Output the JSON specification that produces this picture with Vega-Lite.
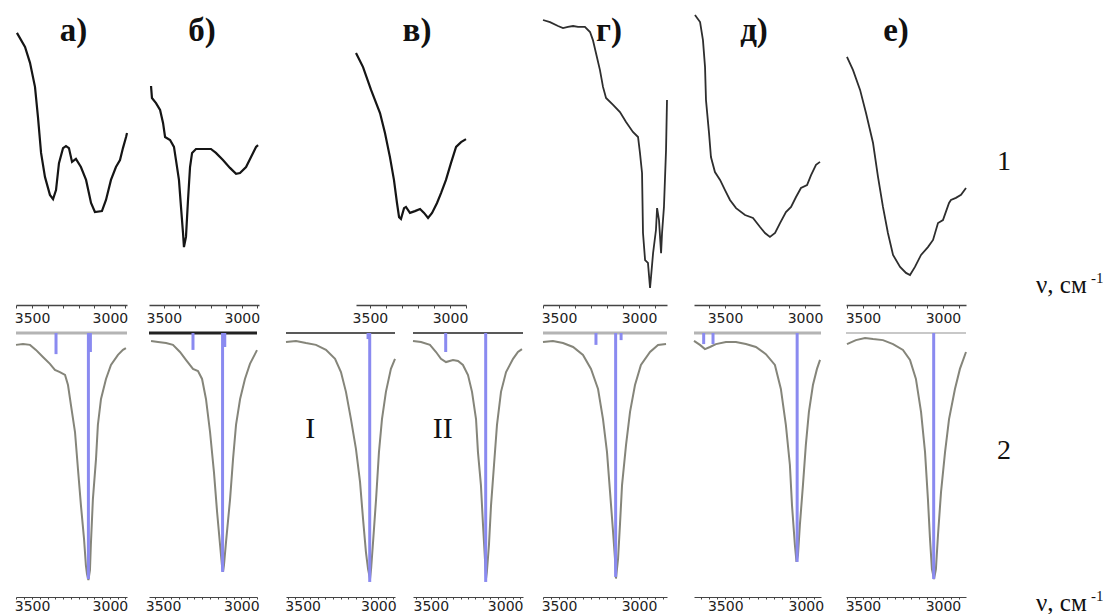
{
"$schema": "https://vega.github.io/schema/vega-lite/v6.json",
"background": "white",
"padding": {"left": 12, "top": 5, "right": 0, "bottom": 0},
"spacing": 6,
"datasets": {
"exp": [
{"p":"a","wn":3597,"t":90.7},{"p":"a","wn":3545,"t":86.0},{"p":"a","wn":3513,"t":80.7},{"p":"a","wn":3481,"t":72.7},{"p":"a","wn":3462,"t":62.7},{"p":"a","wn":3442,"t":50.7},{"p":"a","wn":3417,"t":42.7},{"p":"a","wn":3385,"t":36.7},{"p":"a","wn":3365,"t":35.3},{"p":"a","wn":3346,"t":38.3},{"p":"a","wn":3327,"t":47.3},{"p":"a","wn":3301,"t":52.3},{"p":"a","wn":3282,"t":53.0},{"p":"a","wn":3263,"t":52.3},{"p":"a","wn":3243,"t":47.7},{"p":"a","wn":3218,"t":48.7},{"p":"a","wn":3186,"t":46.0},{"p":"a","wn":3153,"t":41.7},{"p":"a","wn":3121,"t":34.0},{"p":"a","wn":3096,"t":31.0},{"p":"a","wn":3051,"t":31.3},{"p":"a","wn":3025,"t":35.0},{"p":"a","wn":2993,"t":41.7},{"p":"a","wn":2961,"t":46.0},{"p":"a","wn":2935,"t":48.3},{"p":"a","wn":2916,"t":52.3},{"p":"a","wn":2896,"t":56.0},{"p":"a","wn":2890,"t":57.3},
{"p":"b","wn":3582,"t":73.0},{"p":"b","wn":3576,"t":69.0},{"p":"b","wn":3550,"t":67.3},{"p":"b","wn":3524,"t":65.0},{"p":"b","wn":3505,"t":60.7},{"p":"b","wn":3492,"t":56.0},{"p":"b","wn":3460,"t":55.0},{"p":"b","wn":3435,"t":52.7},{"p":"b","wn":3422,"t":48.3},{"p":"b","wn":3403,"t":41.7},{"p":"b","wn":3390,"t":32.7},{"p":"b","wn":3377,"t":24.0},{"p":"b","wn":3371,"t":19.3},{"p":"b","wn":3358,"t":22.7},{"p":"b","wn":3345,"t":35.0},{"p":"b","wn":3332,"t":46.0},{"p":"b","wn":3319,"t":50.7},{"p":"b","wn":3294,"t":52.0},{"p":"b","wn":3249,"t":52.0},{"p":"b","wn":3198,"t":52.0},{"p":"b","wn":3166,"t":50.7},{"p":"b","wn":3121,"t":48.3},{"p":"b","wn":3076,"t":45.7},{"p":"b","wn":3037,"t":43.7},{"p":"b","wn":3012,"t":44.0},{"p":"b","wn":2973,"t":46.0},{"p":"b","wn":2941,"t":49.3},{"p":"b","wn":2909,"t":52.7},{"p":"b","wn":2896,"t":53.3},
{"p":"v","wn":3587,"t":84.0},{"p":"v","wn":3543,"t":79.3},{"p":"v","wn":3493,"t":71.7},{"p":"v","wn":3437,"t":64.0},{"p":"v","wn":3406,"t":57.3},{"p":"v","wn":3375,"t":49.3},{"p":"v","wn":3350,"t":41.7},{"p":"v","wn":3331,"t":34.0},{"p":"v","wn":3318,"t":29.3},{"p":"v","wn":3306,"t":28.7},{"p":"v","wn":3287,"t":32.3},{"p":"v","wn":3275,"t":32.7},{"p":"v","wn":3250,"t":30.7},{"p":"v","wn":3219,"t":31.3},{"p":"v","wn":3187,"t":32.0},{"p":"v","wn":3162,"t":30.7},{"p":"v","wn":3137,"t":29.0},{"p":"v","wn":3112,"t":30.7},{"p":"v","wn":3081,"t":34.0},{"p":"v","wn":3056,"t":37.3},{"p":"v","wn":3025,"t":41.7},{"p":"v","wn":2994,"t":47.3},{"p":"v","wn":2962,"t":52.7},{"p":"v","wn":2931,"t":54.3},{"p":"v","wn":2900,"t":55.3},
{"p":"g","wn":3600,"t":95.0},{"p":"g","wn":3556,"t":94.3},{"p":"g","wn":3506,"t":93.0},{"p":"g","wn":3475,"t":92.3},{"p":"g","wn":3444,"t":92.7},{"p":"g","wn":3412,"t":93.0},{"p":"g","wn":3381,"t":92.7},{"p":"g","wn":3338,"t":92.7},{"p":"g","wn":3306,"t":91.0},{"p":"g","wn":3288,"t":88.3},{"p":"g","wn":3269,"t":84.0},{"p":"g","wn":3244,"t":78.3},{"p":"g","wn":3225,"t":72.7},{"p":"g","wn":3206,"t":69.0},{"p":"g","wn":3162,"t":66.7},{"p":"g","wn":3119,"t":64.3},{"p":"g","wn":3081,"t":61.0},{"p":"g","wn":3038,"t":57.7},{"p":"g","wn":3006,"t":56.0},{"p":"g","wn":2994,"t":50.7},{"p":"g","wn":2981,"t":44.0},{"p":"g","wn":2975,"t":24.0},{"p":"g","wn":2962,"t":15.0},{"p":"g","wn":2944,"t":14.0},{"p":"g","wn":2931,"t":5.7},{"p":"g","wn":2925,"t":9.3},{"p":"g","wn":2912,"t":17.3},{"p":"g","wn":2894,"t":25.0},{"p":"g","wn":2887,"t":32.3},{"p":"g","wn":2875,"t":28.3},{"p":"g","wn":2862,"t":17.3},{"p":"g","wn":2856,"t":24.0},{"p":"g","wn":2844,"t":32.7},{"p":"g","wn":2831,"t":51.7},{"p":"g","wn":2825,"t":68.3},
{"p":"d","wn":3688,"t":96.7},{"p":"d","wn":3656,"t":94.3},{"p":"d","wn":3638,"t":88.3},{"p":"d","wn":3625,"t":79.3},{"p":"d","wn":3619,"t":68.3},{"p":"d","wn":3600,"t":57.3},{"p":"d","wn":3588,"t":49.3},{"p":"d","wn":3563,"t":44.3},{"p":"d","wn":3531,"t":41.7},{"p":"d","wn":3500,"t":38.3},{"p":"d","wn":3469,"t":35.0},{"p":"d","wn":3431,"t":32.3},{"p":"d","wn":3375,"t":30.0},{"p":"d","wn":3325,"t":29.0},{"p":"d","wn":3281,"t":26.0},{"p":"d","wn":3250,"t":24.0},{"p":"d","wn":3219,"t":22.7},{"p":"d","wn":3187,"t":24.0},{"p":"d","wn":3156,"t":27.3},{"p":"d","wn":3119,"t":31.0},{"p":"d","wn":3087,"t":32.7},{"p":"d","wn":3056,"t":36.0},{"p":"d","wn":3025,"t":39.0},{"p":"d","wn":2987,"t":40.0},{"p":"d","wn":2962,"t":43.3},{"p":"d","wn":2931,"t":46.7},{"p":"d","wn":2906,"t":47.7},
{"p":"e","wn":3600,"t":82.7},{"p":"e","wn":3562,"t":78.3},{"p":"e","wn":3518,"t":71.7},{"p":"e","wn":3481,"t":64.0},{"p":"e","wn":3437,"t":54.0},{"p":"e","wn":3406,"t":42.7},{"p":"e","wn":3375,"t":32.7},{"p":"e","wn":3344,"t":24.0},{"p":"e","wn":3312,"t":16.7},{"p":"e","wn":3268,"t":12.7},{"p":"e","wn":3231,"t":10.7},{"p":"e","wn":3206,"t":10.0},{"p":"e","wn":3175,"t":12.7},{"p":"e","wn":3137,"t":16.7},{"p":"e","wn":3094,"t":19.3},{"p":"e","wn":3062,"t":21.7},{"p":"e","wn":3031,"t":27.3},{"p":"e","wn":3000,"t":28.3},{"p":"e","wn":2962,"t":34.0},{"p":"e","wn":2950,"t":35.0},{"p":"e","wn":2919,"t":35.7},{"p":"e","wn":2887,"t":36.7},{"p":"e","wn":2856,"t":39.0}
],
"calc": [
{"p":"a","wn":3603,"t":95.5},{"p":"a","wn":3558,"t":95.8},{"p":"a","wn":3513,"t":95.5},{"p":"a","wn":3475,"t":93.6},{"p":"a","wn":3430,"t":90.9},{"p":"a","wn":3385,"t":88.3},{"p":"a","wn":3353,"t":86.0},{"p":"a","wn":3321,"t":85.2},{"p":"a","wn":3288,"t":84.1},{"p":"a","wn":3269,"t":80.3},{"p":"a","wn":3250,"t":72.7},{"p":"a","wn":3224,"t":62.5},{"p":"a","wn":3205,"t":48.5},{"p":"a","wn":3186,"t":34.8},{"p":"a","wn":3166,"t":22.0},{"p":"a","wn":3154,"t":12.0},{"p":"a","wn":3147,"t":8.7},{"p":"a","wn":3138,"t":6.4},{"p":"a","wn":3128,"t":10.2},{"p":"a","wn":3122,"t":20.0},{"p":"a","wn":3109,"t":37.1},{"p":"a","wn":3089,"t":52.3},{"p":"a","wn":3077,"t":65.2},{"p":"a","wn":3057,"t":75.0},{"p":"a","wn":3025,"t":82.6},{"p":"a","wn":2993,"t":87.9},{"p":"a","wn":2948,"t":91.7},{"p":"a","wn":2916,"t":93.6},{"p":"a","wn":2897,"t":94.3},
{"p":"b","wn":3577,"t":97.0},{"p":"b","wn":3532,"t":96.6},{"p":"b","wn":3481,"t":96.2},{"p":"b","wn":3437,"t":95.5},{"p":"b","wn":3392,"t":92.8},{"p":"b","wn":3354,"t":89.8},{"p":"b","wn":3309,"t":86.4},{"p":"b","wn":3277,"t":85.6},{"p":"b","wn":3251,"t":82.6},{"p":"b","wn":3226,"t":75.0},{"p":"b","wn":3200,"t":62.5},{"p":"b","wn":3175,"t":47.3},{"p":"b","wn":3155,"t":32.2},{"p":"b","wn":3136,"t":19.7},{"p":"b","wn":3124,"t":12.1},{"p":"b","wn":3117,"t":9.5},{"p":"b","wn":3111,"t":12.1},{"p":"b","wn":3098,"t":20.8},{"p":"b","wn":3072,"t":37.1},{"p":"b","wn":3053,"t":52.3},{"p":"b","wn":3034,"t":65.2},{"p":"b","wn":3008,"t":75.0},{"p":"b","wn":2977,"t":82.6},{"p":"b","wn":2945,"t":88.3},{"p":"b","wn":2913,"t":92.0},{"p":"b","wn":2900,"t":93.5},
{"p":"I","wn":3610,"t":96.6},{"p":"I","wn":3544,"t":97.0},{"p":"I","wn":3478,"t":96.2},{"p":"I","wn":3412,"t":95.5},{"p":"I","wn":3346,"t":93.6},{"p":"I","wn":3286,"t":90.2},{"p":"I","wn":3247,"t":85.2},{"p":"I","wn":3214,"t":77.7},{"p":"I","wn":3181,"t":67.4},{"p":"I","wn":3148,"t":56.1},{"p":"I","wn":3121,"t":43.6},{"p":"I","wn":3101,"t":29.5},{"p":"I","wn":3082,"t":17.0},{"p":"I","wn":3068,"t":10.6},{"p":"I","wn":3055,"t":6.8},{"p":"I","wn":3048,"t":10.6},{"p":"I","wn":3035,"t":20.8},{"p":"I","wn":3015,"t":37.1},{"p":"I","wn":2996,"t":54.9},{"p":"I","wn":2976,"t":67.4},{"p":"I","wn":2950,"t":77.7},{"p":"I","wn":2917,"t":86.4},{"p":"I","wn":2890,"t":90.2},
{"p":"II","wn":3620,"t":97.0},{"p":"II","wn":3566,"t":96.6},{"p":"II","wn":3506,"t":95.5},{"p":"II","wn":3465,"t":92.8},{"p":"II","wn":3432,"t":90.2},{"p":"II","wn":3398,"t":89.0},{"p":"II","wn":3351,"t":89.8},{"p":"II","wn":3317,"t":89.4},{"p":"II","wn":3284,"t":87.9},{"p":"II","wn":3250,"t":84.1},{"p":"II","wn":3223,"t":77.7},{"p":"II","wn":3196,"t":67.4},{"p":"II","wn":3183,"t":54.9},{"p":"II","wn":3163,"t":42.4},{"p":"II","wn":3149,"t":27.3},{"p":"II","wn":3136,"t":14.4},{"p":"II","wn":3129,"t":6.8},{"p":"II","wn":3123,"t":9.5},{"p":"II","wn":3109,"t":19.7},{"p":"II","wn":3095,"t":34.8},{"p":"II","wn":3075,"t":50.0},{"p":"II","wn":3055,"t":65.2},{"p":"II","wn":3028,"t":77.7},{"p":"II","wn":2994,"t":85.2},{"p":"II","wn":2947,"t":90.2},{"p":"II","wn":2914,"t":92.8},{"p":"II","wn":2887,"t":93.9},
{"p":"g","wn":3600,"t":96.6},{"p":"g","wn":3538,"t":97.0},{"p":"g","wn":3475,"t":96.2},{"p":"g","wn":3412,"t":94.7},{"p":"g","wn":3350,"t":91.7},{"p":"g","wn":3300,"t":86.4},{"p":"g","wn":3256,"t":78.8},{"p":"g","wn":3225,"t":67.4},{"p":"g","wn":3200,"t":54.9},{"p":"g","wn":3181,"t":39.8},{"p":"g","wn":3162,"t":24.6},{"p":"g","wn":3150,"t":14.4},{"p":"g","wn":3144,"t":7.0},{"p":"g","wn":3131,"t":14.4},{"p":"g","wn":3119,"t":27.3},{"p":"g","wn":3106,"t":42.4},{"p":"g","wn":3081,"t":57.6},{"p":"g","wn":3056,"t":70.1},{"p":"g","wn":3025,"t":80.3},{"p":"g","wn":2988,"t":87.9},{"p":"g","wn":2931,"t":92.8},{"p":"g","wn":2881,"t":95.5},{"p":"g","wn":2831,"t":95.8},
{"p":"d","wn":3694,"t":97.0},{"p":"d","wn":3657,"t":95.5},{"p":"d","wn":3626,"t":93.9},{"p":"d","wn":3595,"t":94.7},{"p":"d","wn":3558,"t":95.8},{"p":"d","wn":3496,"t":96.6},{"p":"d","wn":3434,"t":96.6},{"p":"d","wn":3372,"t":95.8},{"p":"d","wn":3310,"t":94.7},{"p":"d","wn":3248,"t":92.0},{"p":"d","wn":3192,"t":87.9},{"p":"d","wn":3155,"t":78.8},{"p":"d","wn":3124,"t":65.2},{"p":"d","wn":3099,"t":50.0},{"p":"d","wn":3086,"t":34.8},{"p":"d","wn":3068,"t":19.7},{"p":"d","wn":3058,"t":13.3},{"p":"d","wn":3049,"t":15.9},{"p":"d","wn":3037,"t":27.3},{"p":"d","wn":3018,"t":42.4},{"p":"d","wn":3000,"t":57.6},{"p":"d","wn":2981,"t":70.1},{"p":"d","wn":2956,"t":80.3},{"p":"d","wn":2931,"t":86.4},{"p":"d","wn":2912,"t":89.8},
{"p":"e","wn":3600,"t":95.8},{"p":"e","wn":3544,"t":97.3},{"p":"e","wn":3487,"t":98.1},{"p":"e","wn":3437,"t":97.7},{"p":"e","wn":3375,"t":97.3},{"p":"e","wn":3312,"t":95.8},{"p":"e","wn":3250,"t":93.6},{"p":"e","wn":3206,"t":89.8},{"p":"e","wn":3169,"t":82.6},{"p":"e","wn":3137,"t":70.1},{"p":"e","wn":3112,"t":54.9},{"p":"e","wn":3094,"t":37.1},{"p":"e","wn":3081,"t":22.0},{"p":"e","wn":3069,"t":10.6},{"p":"e","wn":3056,"t":6.8},{"p":"e","wn":3044,"t":10.6},{"p":"e","wn":3031,"t":23.5},{"p":"e","wn":3012,"t":39.8},{"p":"e","wn":2987,"t":54.9},{"p":"e","wn":2962,"t":67.4},{"p":"e","wn":2925,"t":78.8},{"p":"e","wn":2894,"t":86.4},{"p":"e","wn":2856,"t":92.8}
],
"sticks": [
{"p":"a","wn":3346,"t":92.0},{"p":"a","wn":3138,"t":6.8},{"p":"a","wn":3125,"t":92.8},
{"p":"b","wn":3309,"t":93.6},{"p":"b","wn":3120,"t":9.5},{"p":"b","wn":3106,"t":94.7},
{"p":"I","wn":3057,"t":5.7},{"p":"I","wn":3068,"t":97.7},
{"p":"II","wn":3400,"t":92.8},{"p":"II","wn":3131,"t":5.7},
{"p":"g","wn":3269,"t":95.5},{"p":"g","wn":3146,"t":7.6},{"p":"g","wn":3112,"t":97.3},
{"p":"d","wn":3634,"t":95.8},{"p":"d","wn":3576,"t":95.8},{"p":"d","wn":3054,"t":13.3},
{"p":"e","wn":3058,"t":6.8}
]
},
"vconcat": [
{
"bounds": "flush",
"spacing": 0,
"hconcat": [
{"width": 111, "height": 300, "title": {"text": "а)", "dx": 2}, "data": {"name": "exp"}, "transform": [{"filter": "datum.p == 'a'"}], "mark": {"type": "line", "color": "#151515", "strokeWidth": 2.2},
 "encoding": {"x": {"field": "wn", "type": "quantitative", "scale": {"domain": [2890, 3603], "reverse": true, "nice": false, "zero": false}, "axis": {"values": [2900,3000,3100,3200,3300,3400,3500,3600], "format": "d", "labelExpr": "datum.value == 3500 || datum.value == 3000 ? datum.label : ''", "tickSize": 3, "domainWidth": 1.5, "title": null}},
  "y": {"field": "t", "type": "quantitative", "scale": {"domain": [0, 100]}, "axis": null}}},
{"width": 22, "height": 10, "data": {"values": []}, "mark": "point"},
{"width": 110, "height": 300, "title": {"text": "б)", "dx": -2}, "data": {"name": "exp"}, "transform": [{"filter": "datum.p == 'b'"}], "mark": {"type": "line", "color": "#151515", "strokeWidth": 2.2},
 "encoding": {"x": {"field": "wn", "type": "quantitative", "scale": {"domain": [2890, 3595], "reverse": true, "nice": false, "zero": false}, "axis": {"values": [2900,3000,3100,3200,3300,3400,3500], "format": "d", "labelExpr": "datum.value == 3500 || datum.value == 3000 ? datum.label : ''", "tickSize": 3, "domainWidth": 1.5, "title": null}},
  "y": {"field": "t", "type": "quantitative", "scale": {"domain": [0, 100]}, "axis": null}}},
{"width": 97, "height": 10, "data": {"values": []}, "mark": "point"},
{"width": 110, "height": 300, "title": {"text": "в)", "dx": 6}, "data": {"name": "exp"}, "transform": [{"filter": "datum.p == 'v'"}], "mark": {"type": "line", "color": "#151515", "strokeWidth": 2.2},
 "encoding": {"x": {"field": "wn", "type": "quantitative", "scale": {"domain": [2900, 3587], "reverse": true, "nice": false, "zero": false}, "axis": {"values": [2900,3000,3100,3200,3300,3400,3500], "format": "d", "labelExpr": "datum.value == 3500 || datum.value == 3000 ? datum.label : ''", "tickSize": 3, "domainWidth": 1.5, "title": null}},
  "y": {"field": "t", "type": "quantitative", "scale": {"domain": [0, 100]}, "axis": null}}},
{"width": 77, "height": 10, "data": {"values": []}, "mark": "point"},
{"width": 124, "height": 300, "title": {"text": "г)", "dx": 4}, "data": {"name": "exp"}, "transform": [{"filter": "datum.p == 'g'"}], "mark": {"type": "line", "color": "#2e2e2e", "strokeWidth": 1.8},
 "encoding": {"x": {"field": "wn", "type": "quantitative", "scale": {"domain": [2825, 3600], "reverse": true, "nice": false, "zero": false}, "axis": {"values": [2900,3000,3100,3200,3300,3400,3500,3600], "format": "d", "labelExpr": "datum.value == 3500 || datum.value == 3000 ? datum.label : ''", "tickSize": 3, "domainWidth": 1.5, "title": null}},
  "y": {"field": "t", "type": "quantitative", "scale": {"domain": [0, 100]}, "axis": null}}},
{"width": 27, "height": 10, "data": {"values": []}, "mark": "point"},
{"width": 126, "height": 300, "title": {"text": "д)", "dx": -3}, "data": {"name": "exp"}, "transform": [{"filter": "datum.p == 'd'"}], "mark": {"type": "line", "color": "#2e2e2e", "strokeWidth": 1.8},
 "encoding": {"x": {"field": "wn", "type": "quantitative", "scale": {"domain": [2906, 3694], "reverse": true, "nice": false, "zero": false}, "axis": {"values": [3000,3100,3200,3300,3400,3500,3600], "format": "d", "labelExpr": "datum.value == 3500 || datum.value == 3000 ? datum.label : ''", "tickSize": 3, "domainWidth": 1.5, "title": null}},
  "y": {"field": "t", "type": "quantitative", "scale": {"domain": [0, 100]}, "axis": null}}},
{"width": 26, "height": 10, "data": {"values": []}, "mark": "point"},
{"width": 120, "height": 300, "title": {"text": "е)", "dx": -10}, "data": {"name": "exp"}, "transform": [{"filter": "datum.p == 'e'"}], "mark": {"type": "line", "color": "#2e2e2e", "strokeWidth": 1.8},
 "encoding": {"x": {"field": "wn", "type": "quantitative", "scale": {"domain": [2856, 3606], "reverse": true, "nice": false, "zero": false}, "axis": {"values": [2900,3000,3100,3200,3300,3400,3500,3600], "format": "d", "labelExpr": "datum.value == 3500 || datum.value == 3000 ? datum.label : ''", "tickSize": 3, "domainWidth": 1.5, "title": null}},
  "y": {"field": "t", "type": "quantitative", "scale": {"domain": [0, 100]}, "axis": null}}},
{"width": 140, "height": 300, "data": {"values": [{}]},
 "layer": [
  {"mark": {"type": "text", "text": "1", "font": "Liberation Serif", "fontSize": 28, "align": "center", "baseline": "middle", "color": "#111"},
   "encoding": {"x": {"datum": 0.271, "type": "quantitative", "scale": {"domain": [0, 1]}, "axis": null}, "y": {"datum": 0.477, "type": "quantitative", "scale": {"domain": [0, 1]}, "axis": null}}},
  {"mark": {"type": "text", "text": "ν, см", "font": "Liberation Serif", "fontSize": 25, "align": "left", "baseline": "alphabetic", "color": "#111"},
   "encoding": {"x": {"datum": 0.5, "type": "quantitative"}, "y": {"datum": 0.04, "type": "quantitative"}}},
  {"mark": {"type": "text", "text": "-1", "font": "Liberation Serif", "fontSize": 15, "align": "left", "baseline": "alphabetic", "color": "#111"},
   "encoding": {"x": {"datum": 0.893, "type": "quantitative"}, "y": {"datum": 0.075, "type": "quantitative"}}}
 ]}
]
},
{
"bounds": "flush",
"spacing": 0,
"hconcat": [
{"width": 111, "height": 264, "layer": [
 {"data": {"values": [{}]}, "mark": {"type": "rule", "color": "#b4b4b4", "strokeWidth": 3}, "encoding": {"y": {"datum": 100, "type": "quantitative", "scale": {"domain": [0, 100]}, "axis": null}}},
 {"data": {"name": "calc"}, "transform": [{"filter": "datum.p == 'a'"}], "mark": {"type": "line", "color": "#85857a", "strokeWidth": 2},
  "encoding": {"x": {"field": "wn", "type": "quantitative", "scale": {"domain": [2890, 3603], "reverse": true, "nice": false, "zero": false}, "axis": {"values": [2900,2950,3000,3050,3100,3150,3200,3250,3300,3350,3400,3450,3500,3550,3600], "format": "d", "labelExpr": "datum.value == 3500 || datum.value == 3000 ? datum.label : ''", "tickSize": 2, "labelPadding": 0, "labelBaseline": "top", "title": null}}, "y": {"field": "t", "type": "quantitative"}}},
 {"data": {"name": "sticks"}, "transform": [{"filter": "datum.p == 'a'"}], "mark": {"type": "rule", "color": "#8a8af0", "strokeWidth": 3}, "encoding": {"x": {"field": "wn", "type": "quantitative", "axis": {"values": [2900,2950,3000,3050,3100,3150,3200,3250,3300,3350,3400,3450,3500,3550,3600], "format": "d", "labelExpr": "datum.value == 3500 || datum.value == 3000 ? datum.label : ''", "tickSize": 2, "labelPadding": 0, "labelBaseline": "top", "title": null}}, "y": {"field": "t", "type": "quantitative"}, "y2": {"datum": 100}}}
]},
{"width": 22, "height": 10, "data": {"values": []}, "mark": "point"},
{"width": 108, "height": 264, "layer": [
 {"data": {"values": [{}]}, "mark": {"type": "rule", "color": "#222222", "strokeWidth": 3}, "encoding": {"y": {"datum": 100, "type": "quantitative", "scale": {"domain": [0, 100]}, "axis": null}}},
 {"data": {"name": "calc"}, "transform": [{"filter": "datum.p == 'b'"}], "mark": {"type": "line", "color": "#85857a", "strokeWidth": 2},
  "encoding": {"x": {"field": "wn", "type": "quantitative", "scale": {"domain": [2900, 3590], "reverse": true, "nice": false, "zero": false}, "axis": {"values": [2900,2950,3000,3050,3100,3150,3200,3250,3300,3350,3400,3450,3500,3550], "format": "d", "labelExpr": "datum.value == 3500 || datum.value == 3000 ? datum.label : ''", "tickSize": 2, "labelPadding": 0, "labelBaseline": "top", "title": null}}, "y": {"field": "t", "type": "quantitative"}}},
 {"data": {"name": "sticks"}, "transform": [{"filter": "datum.p == 'b'"}], "mark": {"type": "rule", "color": "#8a8af0", "strokeWidth": 3}, "encoding": {"x": {"field": "wn", "type": "quantitative", "axis": {"values": [2900,2950,3000,3050,3100,3150,3200,3250,3300,3350,3400,3450,3500,3550], "format": "d", "labelExpr": "datum.value == 3500 || datum.value == 3000 ? datum.label : ''", "tickSize": 2, "labelPadding": 0, "labelBaseline": "top", "title": null}}, "y": {"field": "t", "type": "quantitative"}, "y2": {"datum": 100}}}
]},
{"width": 29, "height": 10, "data": {"values": []}, "mark": "point"},
{"width": 109, "height": 264, "layer": [
 {"data": {"values": [{}]}, "mark": {"type": "rule", "color": "#222222", "strokeWidth": 1.3}, "encoding": {"y": {"datum": 100, "type": "quantitative", "scale": {"domain": [0, 100]}, "axis": null}}},
 {"data": {"name": "calc"}, "transform": [{"filter": "datum.p == 'I'"}], "mark": {"type": "line", "color": "#85857a", "strokeWidth": 2},
  "encoding": {"x": {"field": "wn", "type": "quantitative", "scale": {"domain": [2890, 3610], "reverse": true, "nice": false, "zero": false}, "axis": {"values": [2900,2950,3000,3050,3100,3150,3200,3250,3300,3350,3400,3450,3500,3550,3600], "format": "d", "labelExpr": "datum.value == 3500 || datum.value == 3000 ? datum.label : ''", "tickSize": 2, "labelPadding": 0, "labelBaseline": "top", "title": null}}, "y": {"field": "t", "type": "quantitative"}}},
 {"data": {"name": "sticks"}, "transform": [{"filter": "datum.p == 'I'"}], "mark": {"type": "rule", "color": "#8a8af0", "strokeWidth": 3}, "encoding": {"x": {"field": "wn", "type": "quantitative", "axis": {"values": [2900,2950,3000,3050,3100,3150,3200,3250,3300,3350,3400,3450,3500,3550,3600], "format": "d", "labelExpr": "datum.value == 3500 || datum.value == 3000 ? datum.label : ''", "tickSize": 2, "labelPadding": 0, "labelBaseline": "top", "title": null}}, "y": {"field": "t", "type": "quantitative"}, "y2": {"datum": 100}}},
 {"data": {"values": [{}]}, "mark": {"type": "text", "text": "I", "font": "Liberation Serif", "fontSize": 30, "align": "center", "baseline": "middle", "color": "#111"}, "encoding": {"x": {"datum": 3450, "type": "quantitative", "axis": {"values": [2900,2950,3000,3050,3100,3150,3200,3250,3300,3350,3400,3450,3500,3550,3600], "format": "d", "labelExpr": "datum.value == 3500 || datum.value == 3000 ? datum.label : ''", "tickSize": 2, "labelPadding": 0, "labelBaseline": "top", "title": null}}, "y": {"datum": 63.6, "type": "quantitative"}}}
]},
{"width": 18, "height": 10, "data": {"values": []}, "mark": "point"},
{"width": 110, "height": 264, "layer": [
 {"data": {"values": [{}]}, "mark": {"type": "rule", "color": "#222222", "strokeWidth": 1.3}, "encoding": {"y": {"datum": 100, "type": "quantitative", "scale": {"domain": [0, 100]}, "axis": null}}},
 {"data": {"name": "calc"}, "transform": [{"filter": "datum.p == 'II'"}], "mark": {"type": "line", "color": "#85857a", "strokeWidth": 2},
  "encoding": {"x": {"field": "wn", "type": "quantitative", "scale": {"domain": [2880, 3620], "reverse": true, "nice": false, "zero": false}, "axis": {"values": [2900,2950,3000,3050,3100,3150,3200,3250,3300,3350,3400,3450,3500,3550,3600], "format": "d", "labelExpr": "datum.value == 3500 || datum.value == 3000 ? datum.label : ''", "tickSize": 2, "labelPadding": 0, "labelBaseline": "top", "title": null}}, "y": {"field": "t", "type": "quantitative"}}},
 {"data": {"name": "sticks"}, "transform": [{"filter": "datum.p == 'II'"}], "mark": {"type": "rule", "color": "#8a8af0", "strokeWidth": 3}, "encoding": {"x": {"field": "wn", "type": "quantitative", "axis": {"values": [2900,2950,3000,3050,3100,3150,3200,3250,3300,3350,3400,3450,3500,3550,3600], "format": "d", "labelExpr": "datum.value == 3500 || datum.value == 3000 ? datum.label : ''", "tickSize": 2, "labelPadding": 0, "labelBaseline": "top", "title": null}}, "y": {"field": "t", "type": "quantitative"}, "y2": {"datum": 100}}},
 {"data": {"values": [{}]}, "mark": {"type": "text", "text": "II", "font": "Liberation Serif", "fontSize": 30, "align": "center", "baseline": "middle", "color": "#111"}, "encoding": {"x": {"datum": 3420, "type": "quantitative", "axis": {"values": [2900,2950,3000,3050,3100,3150,3200,3250,3300,3350,3400,3450,3500,3550,3600], "format": "d", "labelExpr": "datum.value == 3500 || datum.value == 3000 ? datum.label : ''", "tickSize": 2, "labelPadding": 0, "labelBaseline": "top", "title": null}}, "y": {"datum": 63.6, "type": "quantitative"}}}
]},
{"width": 20, "height": 10, "data": {"values": []}, "mark": "point"},
{"width": 124, "height": 264, "layer": [
 {"data": {"values": [{}]}, "mark": {"type": "rule", "color": "#b4b4b4", "strokeWidth": 3}, "encoding": {"y": {"datum": 100, "type": "quantitative", "scale": {"domain": [0, 100]}, "axis": null}}},
 {"data": {"name": "calc"}, "transform": [{"filter": "datum.p == 'g'"}], "mark": {"type": "line", "color": "#85857a", "strokeWidth": 2},
  "encoding": {"x": {"field": "wn", "type": "quantitative", "scale": {"domain": [2825, 3600], "reverse": true, "nice": false, "zero": false}, "axis": {"values": [2850,2900,2950,3000,3050,3100,3150,3200,3250,3300,3350,3400,3450,3500,3550,3600], "format": "d", "labelExpr": "datum.value == 3500 || datum.value == 3000 ? datum.label : ''", "tickSize": 2, "labelPadding": 0, "labelBaseline": "top", "title": null}}, "y": {"field": "t", "type": "quantitative"}}},
 {"data": {"name": "sticks"}, "transform": [{"filter": "datum.p == 'g'"}], "mark": {"type": "rule", "color": "#8a8af0", "strokeWidth": 3}, "encoding": {"x": {"field": "wn", "type": "quantitative", "axis": {"values": [2850,2900,2950,3000,3050,3100,3150,3200,3250,3300,3350,3400,3450,3500,3550,3600], "format": "d", "labelExpr": "datum.value == 3500 || datum.value == 3000 ? datum.label : ''", "tickSize": 2, "labelPadding": 0, "labelBaseline": "top", "title": null}}, "y": {"field": "t", "type": "quantitative"}, "y2": {"datum": 100}}}
]},
{"width": 27, "height": 10, "data": {"values": []}, "mark": "point"},
{"width": 127, "height": 264, "layer": [
 {"data": {"values": [{}]}, "mark": {"type": "rule", "color": "#b4b4b4", "strokeWidth": 3}, "encoding": {"y": {"datum": 100, "type": "quantitative", "scale": {"domain": [0, 100]}, "axis": null}}},
 {"data": {"name": "calc"}, "transform": [{"filter": "datum.p == 'd'"}], "mark": {"type": "line", "color": "#85857a", "strokeWidth": 2},
  "encoding": {"x": {"field": "wn", "type": "quantitative", "scale": {"domain": [2906, 3694], "reverse": true, "nice": false, "zero": false}, "axis": {"values": [2950,3000,3050,3100,3150,3200,3250,3300,3350,3400,3450,3500,3550,3600,3650], "format": "d", "labelExpr": "datum.value == 3500 || datum.value == 3000 ? datum.label : ''", "tickSize": 2, "labelPadding": 0, "labelBaseline": "top", "title": null}}, "y": {"field": "t", "type": "quantitative"}}},
 {"data": {"name": "sticks"}, "transform": [{"filter": "datum.p == 'd'"}], "mark": {"type": "rule", "color": "#8a8af0", "strokeWidth": 3}, "encoding": {"x": {"field": "wn", "type": "quantitative", "axis": {"values": [2950,3000,3050,3100,3150,3200,3250,3300,3350,3400,3450,3500,3550,3600,3650], "format": "d", "labelExpr": "datum.value == 3500 || datum.value == 3000 ? datum.label : ''", "tickSize": 2, "labelPadding": 0, "labelBaseline": "top", "title": null}}, "y": {"field": "t", "type": "quantitative"}, "y2": {"datum": 100}}}
]},
{"width": 25, "height": 10, "data": {"values": []}, "mark": "point"},
{"width": 120, "height": 264, "layer": [
 {"data": {"values": [{}]}, "mark": {"type": "rule", "color": "#c8c8c8", "strokeWidth": 2}, "encoding": {"y": {"datum": 100, "type": "quantitative", "scale": {"domain": [0, 100]}, "axis": null}}},
 {"data": {"name": "calc"}, "transform": [{"filter": "datum.p == 'e'"}], "mark": {"type": "line", "color": "#85857a", "strokeWidth": 2},
  "encoding": {"x": {"field": "wn", "type": "quantitative", "scale": {"domain": [2856, 3606], "reverse": true, "nice": false, "zero": false}, "axis": {"values": [2900,2950,3000,3050,3100,3150,3200,3250,3300,3350,3400,3450,3500,3550,3600], "format": "d", "labelExpr": "datum.value == 3500 || datum.value == 3000 ? datum.label : ''", "tickSize": 2, "labelPadding": 0, "labelBaseline": "top", "title": null}}, "y": {"field": "t", "type": "quantitative"}}},
 {"data": {"name": "sticks"}, "transform": [{"filter": "datum.p == 'e'"}], "mark": {"type": "rule", "color": "#8a8af0", "strokeWidth": 3}, "encoding": {"x": {"field": "wn", "type": "quantitative", "axis": {"values": [2900,2950,3000,3050,3100,3150,3200,3250,3300,3350,3400,3450,3500,3550,3600], "format": "d", "labelExpr": "datum.value == 3500 || datum.value == 3000 ? datum.label : ''", "tickSize": 2, "labelPadding": 0, "labelBaseline": "top", "title": null}}, "y": {"field": "t", "type": "quantitative"}, "y2": {"datum": 100}}}
]},
{"width": 140, "height": 264, "data": {"values": [{}]},
 "layer": [
  {"mark": {"type": "text", "text": "2", "font": "Liberation Serif", "fontSize": 28, "align": "center", "baseline": "middle", "color": "#111"},
   "encoding": {"x": {"datum": 0.271, "type": "quantitative", "scale": {"domain": [0, 1]}, "axis": null}, "y": {"datum": 0.553, "type": "quantitative", "scale": {"domain": [0, 1]}, "axis": null}}},
  {"mark": {"type": "text", "text": "ν, см", "font": "Liberation Serif", "fontSize": 25, "align": "left", "baseline": "alphabetic", "color": "#111"},
   "encoding": {"x": {"datum": 0.5, "type": "quantitative"}, "y": {"datum": -0.053, "type": "quantitative"}}},
  {"mark": {"type": "text", "text": "-1", "font": "Liberation Serif", "fontSize": 15, "align": "left", "baseline": "alphabetic", "color": "#111"},
   "encoding": {"x": {"datum": 0.893, "type": "quantitative"}, "y": {"datum": -0.015, "type": "quantitative"}}}
 ]}
]
}
],
"config": {
 "view": {"stroke": null},
 "axis": {"labelFont": "DejaVu Sans", "labelFontSize": 14, "labelColor": "#222222", "domainColor": "#444444", "tickColor": "#444444", "grid": false, "labelPadding": 3, "labelFlush": false, "labelOverlap": false},
 "title": {"font": "Liberation Serif", "fontSize": 33, "fontWeight": "bold", "color": "#111111", "anchor": "middle", "offset": -43, "baseline": "alphabetic"},
 "point": {"opacity": 0}
}
}
